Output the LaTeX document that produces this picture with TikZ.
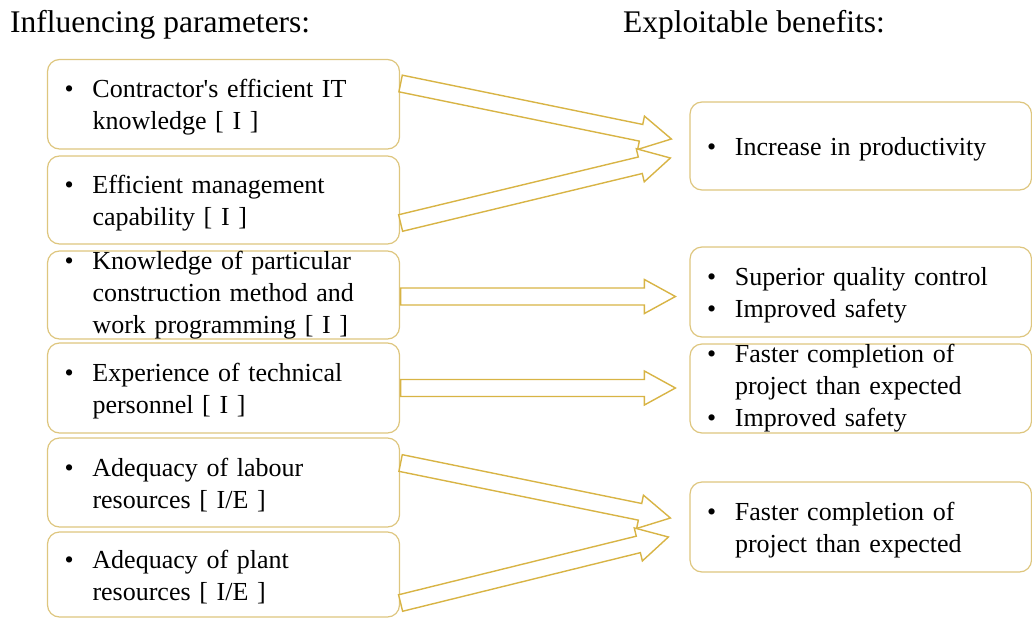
\documentclass[tikz,border=0pt]{standalone}
\usepackage{fontspec}
\setmainfont{Liberation Serif}
\usetikzlibrary{calc}
\definecolor{boxc}{HTML}{DEC67E}
\definecolor{arrc}{HTML}{D8B445}
\tikzset{
  box/.style={draw=boxc, line width=1.2pt, rounded corners=12pt, fill=white,
    inner xsep=17pt, inner ysep=0pt, align=left,
    font=\fontsize{26}{32}\selectfont},
  lbox/.style={box, minimum width=352pt, text width=318pt},
  rbox/.style={box, minimum width=341.5pt, text width=307.5pt},
  arr/.style={draw=arrc, line width=1.4pt, fill=white, line join=miter},
  ttl/.style={font=\fontsize{31.5}{36}\selectfont, anchor=base west, inner sep=0pt}
}
\newcommand\bq{\makebox[28pt][l]{\textbullet}}
\newcommand\bp{\rule{0pt}{24pt}\bq}
\newcommand\ind{\hspace*{28pt}}
\newcommand\blockarrow[2]{%
  \coordinate (hh) at ($(#2)!31pt!(#1)$);
  \path[arr] ($(#1)!8.5pt!90:(#2)$) -- ($(hh)!8.5pt!90:(#2)$) -- ($(hh)!17pt!90:(#2)$)
    -- (#2) -- ($(hh)!17pt!-90:(#2)$) -- ($(hh)!8.5pt!-90:(#2)$) -- ($(#1)!8.5pt!-90:(#2)$) -- cycle;
}
\begin{document}
\begin{tikzpicture}[x=1pt,y=-1pt]
\useasboundingbox (0,0) rectangle (1032,618);
\node[ttl] (t1) at (10,32.5) {Influencing parameters:};
\node[ttl] (t2) at (623,32.5) {Exploitable benefits:};

\node[lbox, minimum height=89.5pt] (b1) at (223.5,104.25) {\bp Contractor\textquotesingle s efficient IT\\\ind knowledge [ I ]};
\node[lbox, minimum height=88pt] (b2) at (223.5,200) {\bp Efficient management\\\ind capability [ I ]};
\node[lbox, minimum height=88pt] (b3) at (223.5,295) {\bq Knowledge of particular\\\ind construction method and\\\ind work programming [ I ]};
\node[lbox, minimum height=90pt] (b4) at (223.5,388) {\bp Experience of technical\\\ind personnel [ I ]};
\node[lbox, minimum height=89pt] (b5) at (223.5,482.5) {\bp Adequacy of labour\\\ind resources [ I/E ]};
\node[lbox, minimum height=85pt] (b6) at (223.5,574.5) {\bp Adequacy of plant\\\ind resources [ I/E ]};

\node[rbox, minimum height=88pt] (r1) at (860.75,146) {\bp Increase in productivity};
\node[rbox, minimum height=90pt] (r2) at (860.75,292) {\bp Superior quality control\\\bq Improved safety};
\node[rbox, minimum height=89pt] (r3) at (860.75,388.5) {\bq Faster completion of\\\ind project than expected\\\bq Improved safety};
\node[rbox, minimum height=90pt] (r4) at (860.75,527) {\bp Faster completion of\\\ind project than expected};

\coordinate (s1) at ($(b1.east)+(0.5,-20.75)$);
\coordinate (e1) at ($(r1.west)+(-18,-7)$);
\coordinate (s2) at ($(b2.east)+(0.5,23)$);
\coordinate (e2) at ($(r1.west)+(-19,12)$);
\coordinate (s3) at ($(b3.east)+(0.5,1.5)$);
\coordinate (e3) at ($(s3 -| r2.west)+(-14,0)$);
\coordinate (s4) at ($(b4.east)+(0.5,0)$);
\coordinate (e4) at ($(s4 -| r3.west)+(-14,0)$);
\coordinate (s5) at ($(b5.east)+(0.5,-19.5)$);
\coordinate (e5) at ($(r4.west)+(-19,-9)$);
\coordinate (s6) at ($(b6.east)+(0.5,28.5)$);
\coordinate (e6) at ($(r4.west)+(-21,10)$);

\blockarrow{s1}{e1}
\blockarrow{s2}{e2}
\blockarrow{s3}{e3}
\blockarrow{s4}{e4}
\blockarrow{s5}{e5}
\blockarrow{s6}{e6}
\end{tikzpicture}
\end{document}
